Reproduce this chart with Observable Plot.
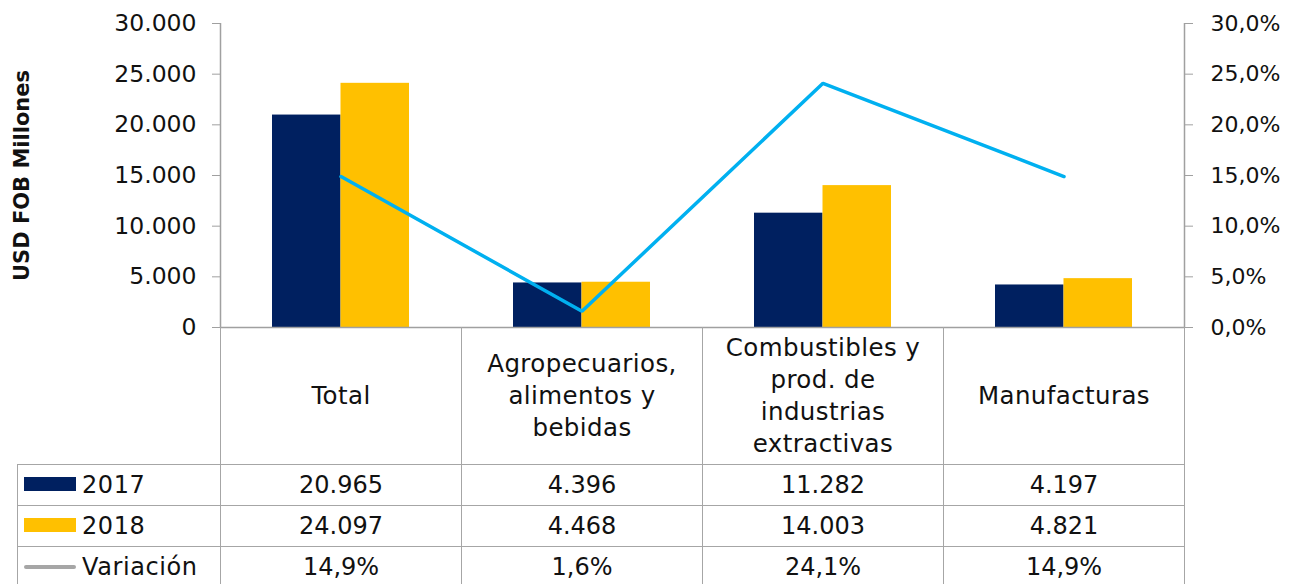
<!DOCTYPE html>
<html>
<head>
<meta charset="utf-8">
<script src="https://cdn.jsdelivr.net/npm/d3@7"></script>
<script src="https://cdn.jsdelivr.net/npm/@observablehq/plot@0.6"></script>
<style>
  html, body { margin: 0; padding: 0; background: #fff; }
  #wrap { position: relative; width: 1298px; height: 584px; overflow: hidden; font-family: "DejaVu Sans", sans-serif; color: #111; }
  #chart { position: absolute; left: 0; top: 0; }
  table { position: absolute; left: 17px; top: 327px; border-collapse: collapse; table-layout: fixed; font-size: 24px; }
  td { border: 1px solid #a6a6a6; text-align: center; vertical-align: middle; padding: 0; height: 40px; white-space: nowrap; }
  tr.head td { height: 137px; border-top: none; white-space: normal; line-height: 32px; font-size: 24.5px; letter-spacing: 0.4px; }
  tr.head td.corner { border-left: none; }
  td.lab { text-align: left; padding-left: 6px; letter-spacing: 0.6px; }
  .key { display: inline-block; width: 52px; height: 14px; vertical-align: middle; margin-right: 6px; position: relative; top: -2px; }
  .keyline { display: inline-block; width: 52px; height: 4px; border-radius: 2px; background: #a6a6a6; vertical-align: middle; margin-right: 6px; position: relative; top: -1px; }
</style>
</head>
<body>
<div id="wrap">
  <div id="chart"></div>
</div>
<script>
const categories = ["Total", "Agropecuarios, alimentos y bebidas", "Combustibles y prod. de industrias extractivas", "Manufacturas"];
const headerLines = [["Total"], ["Agropecuarios,", "alimentos y", "bebidas"], ["Combustibles y", "prod. de", "industrias", "extractivas"], ["Manufacturas"]];
const years = ["2017", "2018"];
const values2017 = [20965, 4396, 11282, 4197];
const values2018 = [24097, 4468, 14003, 4821];
const variacion = [14.9, 1.6, 24.1, 14.9];   // percent
const leftTicks = [0, 5000, 10000, 15000, 20000, 25000, 30000];
const rightTicks = [0, 5, 10, 15, 20, 25, 30]; // percent
const seriesColors = {"2017": "#002060", "2018": "#FFC000"};
const lineColor = "#00B0F0";
const axisLabel = "USD FOB Millones";
const rowLabels = ["2017", "2018", "Variación"];

const es = d3.formatLocale({decimal: ",", thousands: ".", grouping: [3], currency: ["", ""]});
const fmtInt = es.format(",.0f");
const fmtPct = es.format(".1f");

// percent axis shares the same pixel range: 30% ↔ 30.000
const pctToY = p => p * 1000;

const bars17 = categories.map((c, i) => ({cat: c, value: values2017[i]}));
const bars18 = categories.map((c, i) => ({cat: c, value: values2018[i]}));
const lineData = categories.map((c, i) => ({cat: c, v: variacion[i]}));

const W = 1298, mL = 220, mR = 114;
const band = (W - mL - mR) / categories.length;
const half = band / 2;
const gap = 52;
const axisGray = "#a0a0a0";

const chart = Plot.plot({
  width: W,
  height: 340,
  marginLeft: mL,
  marginRight: mR,
  marginTop: 23,
  marginBottom: 13,
  style: {fontFamily: "DejaVu Sans", fontSize: "22px", color: "#111", background: "transparent", overflow: "visible"},
  x: {domain: categories, padding: 0, axis: null},
  y: {domain: [0, 30000], axis: null},
  marks: [
    Plot.barY(bars17, {x: "cat", y: "value", fill: seriesColors["2017"], insetLeft: gap, insetRight: half}),
    Plot.barY(bars18, {x: "cat", y: "value", fill: seriesColors["2018"], insetLeft: half, insetRight: gap}),
    Plot.ruleY([0], {stroke: axisGray, strokeWidth: 1.5}),
    // vertical axis lines at the outer edges of the first and last bands
    Plot.ruleX([categories[0]], {x: d => d, dx: -half, y1: 0, y2: 30000, stroke: axisGray, strokeWidth: 1.5}),
    Plot.ruleX([categories[categories.length - 1]], {x: d => d, dx: half, y1: 0, y2: 30000, stroke: axisGray, strokeWidth: 1.5}),
    Plot.axisY({anchor: "left", ticks: leftTicks, tickFormat: fmtInt, tickSize: 8, tickPadding: 16, stroke: axisGray, label: null, fontSize: 23.5}),
    Plot.axisY({anchor: "right", ticks: rightTicks.map(pctToY), tickFormat: d => fmtPct(d / 1000) + "%", tickSize: 8, tickPadding: 18, stroke: axisGray, label: null, fontSize: 22}),
    Plot.line(lineData, {x: "cat", y: d => pctToY(d.v), stroke: lineColor, strokeWidth: 3.5, strokeLinejoin: "miter"}),
    Plot.text([axisLabel], {frameAnchor: "left", textAnchor: "middle", dx: -198, rotate: -90, fontWeight: "bold", fontSize: 21, fill: "#111"})
  ]
});
document.getElementById("chart").appendChild(chart);

// data table
const table = document.createElement("table");
const colgroup = document.createElement("colgroup");
const c0 = document.createElement("col"); c0.style.width = "203px"; colgroup.appendChild(c0);
categories.forEach(() => { const c = document.createElement("col"); c.style.width = band + "px"; colgroup.appendChild(c); });
table.appendChild(colgroup);

const head = document.createElement("tr"); head.className = "head";
const corner = document.createElement("td"); corner.className = "corner"; head.appendChild(corner);
headerLines.forEach(lines => { const td = document.createElement("td"); td.innerHTML = lines.join("<br>"); head.appendChild(td); });
table.appendChild(head);

const rows = [
  {label: rowLabels[0], key: "bar", color: seriesColors["2017"], vals: values2017.map(fmtInt)},
  {label: rowLabels[1], key: "bar", color: seriesColors["2018"], vals: values2018.map(fmtInt)},
  {label: rowLabels[2], key: "line", vals: variacion.map(v => fmtPct(v) + "%")}
];
rows.forEach(r => {
  const tr = document.createElement("tr");
  const lab = document.createElement("td"); lab.className = "lab";
  const k = document.createElement("span");
  if (r.key === "bar") { k.className = "key"; k.style.background = r.color; } else { k.className = "keyline"; }
  lab.appendChild(k);
  lab.appendChild(document.createTextNode(r.label));
  tr.appendChild(lab);
  r.vals.forEach(v => { const td = document.createElement("td"); td.textContent = v; tr.appendChild(td); });
  table.appendChild(tr);
});
document.getElementById("wrap").appendChild(table);
</script>
</body>
</html>
